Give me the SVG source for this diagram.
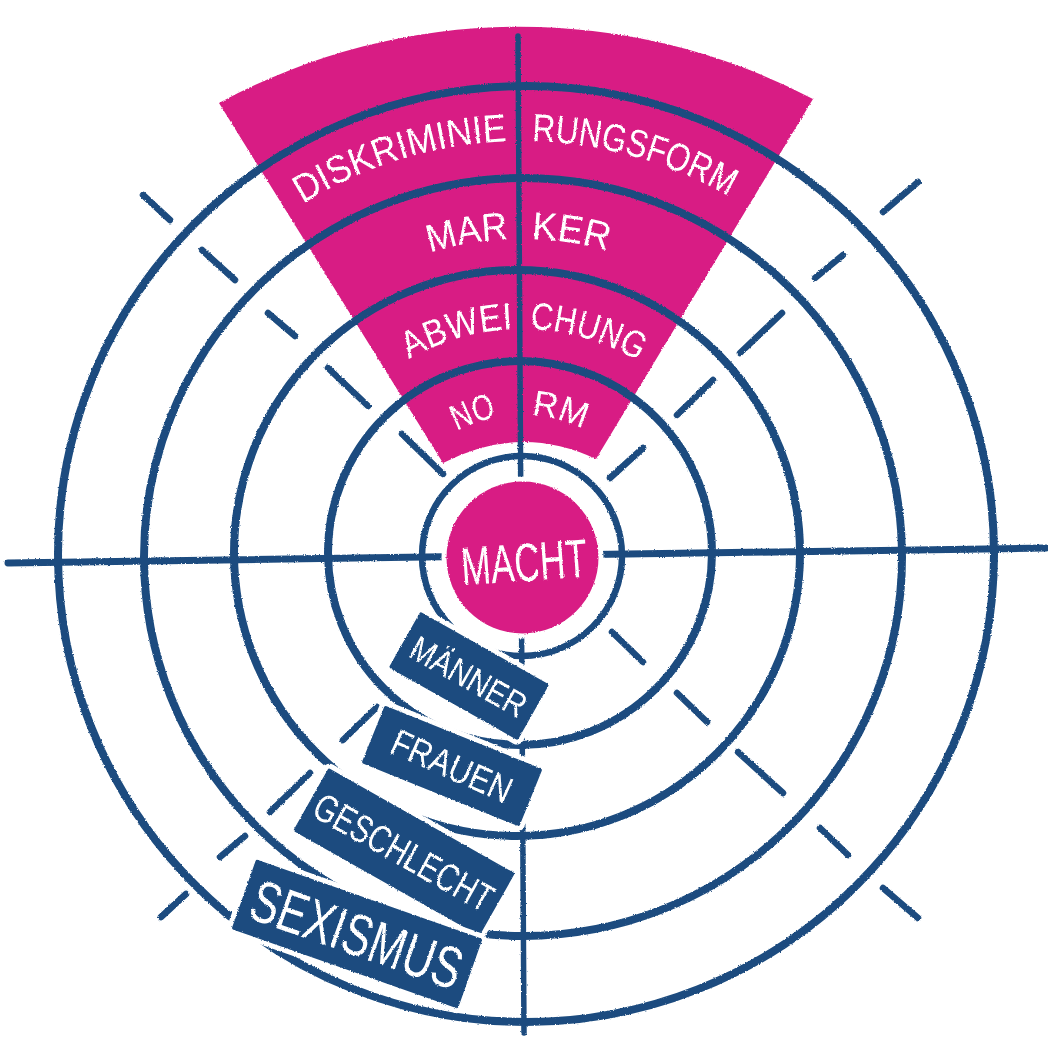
<svg xmlns="http://www.w3.org/2000/svg" width="1048" height="1037" viewBox="0 0 1048 1037">
<style>
.ring{fill:none;stroke:#1d4c7f;stroke-width:8}
.axis{stroke:#1d4c7f;stroke-linecap:round;fill:none}
.dash{stroke:#1d4c7f;stroke-width:6.5;stroke-linecap:round}
.wt{fill:#fff;font-family:'Liberation Sans','DejaVu Sans',sans-serif}
.box{fill:#1d4c7f;stroke:#fff;stroke-width:10;paint-order:stroke;stroke-linejoin:round}
.mag{fill:#d81f84}
</style>
<defs>
<filter id="rough" x="-2%" y="-2%" width="104%" height="104%">
<feTurbulence type="fractalNoise" baseFrequency="0.7" numOctaves="2" seed="3" result="n"/>
<feDisplacementMap in="SourceGraphic" in2="n" scale="2.5" xChannelSelector="R" yChannelSelector="G"/>
</filter>
<path id="p1" d="M255.9,237.9 A414,414 0 0 1 788.1,237.9"/>
<path id="p2" d="M318.9,312.9 A316,316 0 0 1 725.1,312.9"/>
<path id="p3" d="M376.7,381.9 A226,226 0 0 1 667.3,381.9"/>
<path id="p4" d="M432,447.8 A140,140 0 0 1 612,447.8"/>
</defs>
<rect width="1048" height="1037" fill="#fff"/>
<g filter="url(#rough)">
<g id="wedge">
<path class="mag" d="M219,103 A631,631 0 0 1 813,99 L596,459 Q520,423 443,463 Z"/>
</g>
<g id="rings">
<circle class="ring" cx="522" cy="556" r="100" style="stroke-width:6.5"/>
<circle class="ring" cx="520" cy="553" r="192"/>
<circle class="ring" cx="517" cy="553" r="283"/>
<circle class="ring" cx="523" cy="557" r="379"/>
<circle class="ring" cx="526" cy="554" r="468"/>
</g>
<g id="connectors">
<line class="axis" x1="8" y1="563" x2="1046" y2="548" stroke-width="7"/>
<line class="axis" x1="518" y1="36" x2="524" y2="1033" stroke-width="5.5"/>
<line class="dash" x1="612" y1="632" x2="643" y2="662"/>
<line class="dash" x1="677" y1="693" x2="707" y2="722"/>
<line class="dash" x1="738" y1="752" x2="783" y2="793"/>
<line class="dash" x1="820" y1="828" x2="848" y2="855"/>
<line class="dash" x1="883" y1="888" x2="918" y2="918"/>
<line class="dash" x1="610" y1="478" x2="643" y2="448"/>
<line class="dash" x1="677" y1="415" x2="713" y2="380"/>
<line class="dash" x1="740" y1="353" x2="782" y2="313"/>
<line class="dash" x1="815" y1="278" x2="843" y2="255"/>
<line class="dash" x1="883" y1="212" x2="918" y2="182"/>
<line class="dash" x1="143" y1="195" x2="170" y2="220"/>
<line class="dash" x1="202" y1="250" x2="235" y2="280"/>
<line class="dash" x1="268" y1="313" x2="295" y2="336"/>
<line class="dash" x1="328" y1="368" x2="368" y2="406"/>
<line class="dash" x1="402" y1="434" x2="443" y2="474"/>
<line class="dash" x1="161" y1="917" x2="186" y2="894"/>
<line class="dash" x1="220" y1="857" x2="245" y2="836"/>
<line class="dash" x1="270" y1="812" x2="310" y2="773"/>
<line class="dash" x1="343" y1="740" x2="377" y2="707"/>
</g>
<g id="ring-labels">
<text class="wt" font-size="39"><textPath href="#p1" startOffset="58" textLength="216" lengthAdjust="spacingAndGlyphs">DISKRIMINIE</textPath></text>
<text class="wt" font-size="39"><textPath href="#p1" startOffset="299" textLength="206" lengthAdjust="spacingAndGlyphs">RUNGSFORM</textPath></text>
<text class="wt" font-size="39"><textPath href="#p2" startOffset="127" textLength="80" lengthAdjust="spacingAndGlyphs">MAR</textPath></text>
<text class="wt" font-size="39"><textPath href="#p2" startOffset="230" textLength="77" lengthAdjust="spacingAndGlyphs">KER</textPath></text>
<text class="wt" font-size="38"><textPath href="#p3" startOffset="39.4" textLength="109" lengthAdjust="spacingAndGlyphs">ABWEI</textPath></text>
<text class="wt" font-size="38"><textPath href="#p3" startOffset="165.7" textLength="114" lengthAdjust="spacingAndGlyphs">CHUNG</textPath></text>
<text class="wt" font-size="36"><textPath href="#p4" startOffset="30" textLength="42" lengthAdjust="spacingAndGlyphs">NO</textPath></text>
<text class="wt" font-size="36"><textPath href="#p4" startOffset="107" textLength="54" lengthAdjust="spacingAndGlyphs">RM</textPath></text>
</g>
<g id="macht">
<circle cx="522.5" cy="557.5" r="81" fill="#fff"/>
<circle class="mag" cx="522.5" cy="557.5" r="76"/>
<text class="wt" x="524" y="581" font-size="54" text-anchor="middle" textLength="126" lengthAdjust="spacingAndGlyphs" transform="rotate(-4 524 561)">MACHT</text>
</g>
<g id="maenner" transform="translate(469 676) rotate(29.5)">
<rect class="box" x="-74" y="-32" width="148" height="64" rx="2"/>
<text class="wt" x="0" y="13" font-size="35" text-anchor="middle" textLength="128" lengthAdjust="spacingAndGlyphs">MÄNNER</text>
</g>
<g id="frauen" transform="translate(452 766) rotate(22)">
<rect class="box" x="-85" y="-31" width="170" height="62" rx="2"/>
<text class="wt" x="0" y="13" font-size="37" text-anchor="middle" textLength="128" lengthAdjust="spacingAndGlyphs" transform="rotate(2)">FRAUEN</text>
</g>
<g id="geschlecht" transform="translate(404 852) rotate(29.5)">
<rect class="box" x="-107" y="-36" width="214" height="72" rx="2"/>
<text class="wt" x="0" y="14" font-size="39" text-anchor="middle" textLength="200" lengthAdjust="spacingAndGlyphs">GESCHLECHT</text>
</g>
<g id="sexismus" transform="translate(357 934) rotate(19.4)">
<rect class="box" x="-120" y="-37" width="240" height="74" rx="2"/>
<text class="wt" x="0" y="21" font-size="59" text-anchor="middle" textLength="220" lengthAdjust="spacingAndGlyphs">SEXISMUS</text>
</g>
</g>
</svg>
